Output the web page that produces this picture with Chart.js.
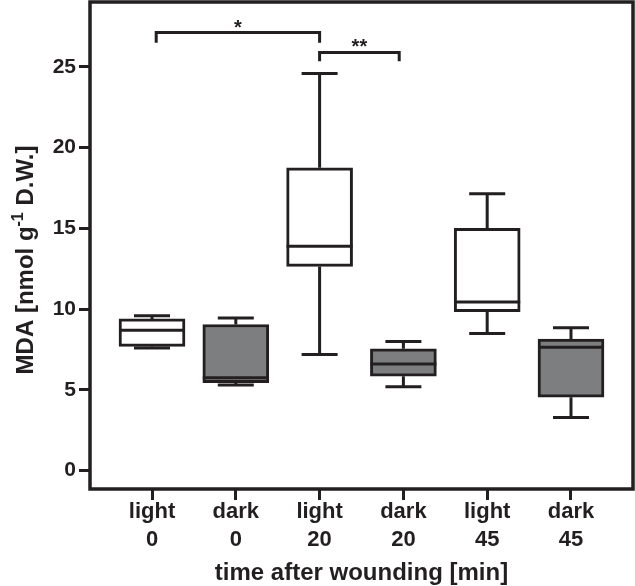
<!DOCTYPE html>
<html>
<head>
<meta charset="utf-8">
<script src="https://cdn.jsdelivr.net/npm/chart.js@4/dist/chart.umd.min.js"></script>
<style>
  html, body { margin: 0; padding: 0; background: #ffffff; }
  #wrap { width: 635px; height: 586px; position: relative; }
</style>
</head>
<body>
<div id="wrap"><canvas id="c" width="635" height="586"></canvas></div>
<script>
// ---- data ----
const categories = [['light', '0'], ['dark', '0'], ['light', '20'], ['dark', '20'], ['light', '45'], ['dark', '45']];
const minValues    = [7.6, 5.3, 7.2, 5.2, 8.5, 3.3];
const q1Values     = [7.7, 5.45, 12.65, 5.85, 9.85, 4.55];
const medianValues = [8.7, 5.75, 13.9, 6.6, 10.45, 7.65];
const q3Values     = [9.4, 9.05, 18.75, 7.55, 15.0, 8.15];
const maxValues    = [9.6, 9.45, 24.6, 8.0, 17.15, 8.85];
const yTickValues  = [0, 5, 10, 15, 20, 25];
// significance brackets
const bracketFrom  = [0.05, 2.0];
const bracketTo    = [2.0, 2.95];
const bracketLevel = [27.13, 25.9];
const bracketDrop  = [26.5, 25.35];
const bracketText  = ['*', '**'];

const INK = '#231f20';
const GRAY = '#7d7e80';
const FONT = '"Liberation Sans", Arial, Helvetica, sans-serif';

const boxPlugin = {
  id: 'boxExtras',
  afterDatasetsDraw(chart) {
    const ctx = chart.ctx;
    const xs = chart.scales.x, ys = chart.scales.y;
    const meta = chart.getDatasetMeta(0);
    ctx.save();
    ctx.strokeStyle = INK;
    ctx.lineWidth = 3;
    ctx.lineCap = 'butt';
    const capHalf = 18;
    categories.forEach((c, i) => {
      const bar = meta.data[i];
      const cx = xs.getPixelForValue(i);
      const pMin = ys.getPixelForValue(minValues[i]);
      const pMax = ys.getPixelForValue(maxValues[i]);
      const pQ1 = ys.getPixelForValue(q1Values[i]);
      const pQ3 = ys.getPixelForValue(q3Values[i]);
      const pMed = ys.getPixelForValue(medianValues[i]);
      ctx.beginPath();
      ctx.moveTo(cx, pQ3); ctx.lineTo(cx, pMax);
      ctx.moveTo(cx - capHalf, pMax); ctx.lineTo(cx + capHalf, pMax);
      ctx.moveTo(cx, pQ1); ctx.lineTo(cx, pMin);
      ctx.moveTo(cx - capHalf, pMin); ctx.lineTo(cx + capHalf, pMin);
      ctx.stroke();
      const half = bar.width / 2;
      ctx.beginPath();
      ctx.moveTo(bar.x - half, pMed); ctx.lineTo(bar.x + half, pMed);
      ctx.stroke();
    });
    // frame
    const a = chart.chartArea;
    ctx.lineWidth = 3.5;
    ctx.strokeRect(a.left, a.top, a.right - a.left, a.bottom - a.top);
    // brackets
    ctx.lineWidth = 3;
    ctx.font = 'bold 20px ' + FONT;
    ctx.fillStyle = INK;
    ctx.textAlign = 'center';
    ctx.textBaseline = 'alphabetic';
    bracketText.forEach((t, k) => {
      const x1 = xs.getPixelForValue(bracketFrom[k]);
      const x2 = xs.getPixelForValue(bracketTo[k]);
      const yl = ys.getPixelForValue(bracketLevel[k]);
      const yd = ys.getPixelForValue(bracketDrop[k]);
      ctx.beginPath();
      ctx.moveTo(x1, yd); ctx.lineTo(x1, yl); ctx.lineTo(x2, yl); ctx.lineTo(x2, yd);
      ctx.stroke();
      ctx.fillText(t, (x1 + x2) / 2, yl + 1);
    });
    // y axis title with superscript
    const main = 'bold 24px ' + FONT;
    const sup = 'bold 16px ' + FONT;
    const parts = [['MDA [nmol g', main, 0], ['-1', sup, -10], [' D.W.]', main, 0]];
    let total = 0;
    parts.forEach(p => { ctx.font = p[1]; p.push(ctx.measureText(p[0]).width); total += p[3]; });
    ctx.translate(33, 260);
    ctx.rotate(-Math.PI / 2);
    ctx.textAlign = 'left';
    let x = -total / 2;
    parts.forEach(p => { ctx.font = p[1]; ctx.fillText(p[0], x, p[2]); x += p[3]; });
    ctx.restore();
  }
};

new Chart(document.getElementById('c'), {
  type: 'bar',
  data: {
    datasets: [{
      data: categories.map((c, i) => ({ x: i, y: [q1Values[i], q3Values[i]] })),
      backgroundColor: categories.map(c => c[0] === 'light' ? '#ffffff' : GRAY),
      borderColor: INK,
      borderWidth: 3,
      borderSkipped: false,
      barThickness: 66
    }]
  },
  options: {
    responsive: false,
    animation: false,
    devicePixelRatio: 1,
    layout: { padding: { top: 2, right: 2, left: 0, bottom: 0 } },
    plugins: { legend: { display: false }, tooltip: { enabled: false } },
    scales: {
      x: {
        type: 'linear',
        offset: false,
        min: -0.74,
        max: 5.74,
        afterBuildTicks: s => { s.ticks = categories.map((c, i) => ({ value: i })); },
        afterFit: s => { s.height = 97; s.paddingLeft = 0; s.paddingRight = 0; },
        ticks: {
          callback: (v) => categories[Math.round(v)],
          color: INK,
          font: { family: FONT, size: 22, weight: 'bold', lineHeight: 1.27 },
          padding: -2,
          maxRotation: 0,
          autoSkip: false
        },
        grid: { offset: false, drawOnChartArea: false, drawTicks: true, tickLength: 11, tickWidth: 3, tickColor: INK, color: INK },
        border: { display: false },
        title: {
          display: true,
          text: 'time after wounding [min]',
          color: INK,
          font: { family: FONT, size: 24, weight: 'bold', lineHeight: 1 },
          padding: { top: 0, bottom: 1 }
        }
      },
      y: {
        min: -1.133,
        max: 29.02,
        afterBuildTicks: s => { s.ticks = yTickValues.map(v => ({ value: v })); },
        afterFit: s => { s.width = 90; s.paddingTop = 0; s.paddingBottom = 0; },
        ticks: {
          color: INK,
          font: { family: FONT, size: 21, weight: 'bold' },
          padding: 3
        },
        grid: { drawOnChartArea: false, drawTicks: true, tickLength: 11, tickWidth: 3, tickColor: INK, color: INK },
        border: { display: false }
      }
    }
  },
  plugins: [boxPlugin]
});
</script>
</body>
</html>
